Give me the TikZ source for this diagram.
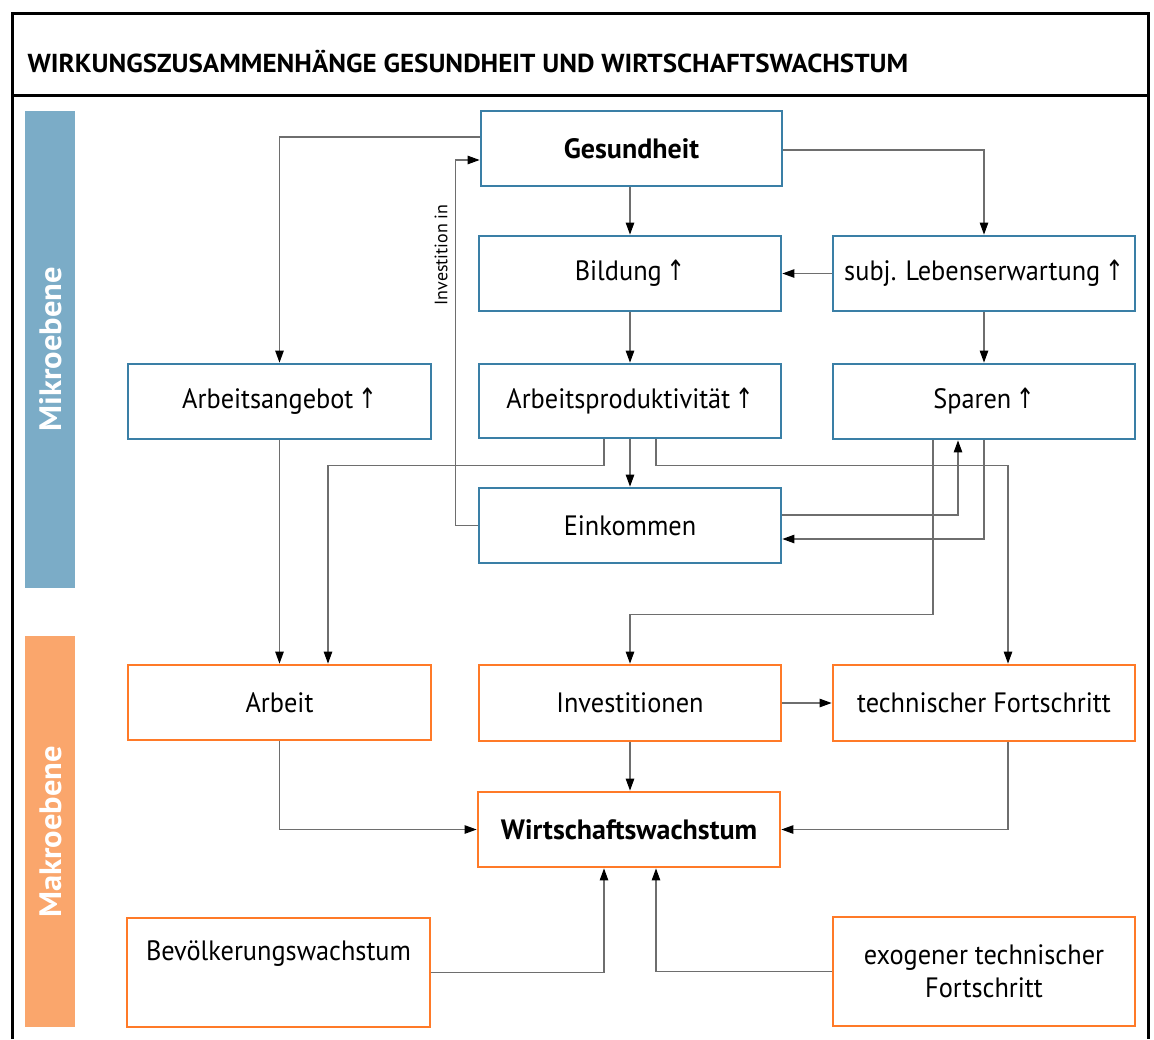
\documentclass[tikz,border=0pt]{standalone}
\usepackage{fontspec}
\setmainfont{PT Sans}[FakeStretch=0.94]
\newfontfamily\boldwide{PT Sans}[FakeStretch=1.0]
\newfontfamily\titlefont{PT Sans}[FakeStretch=1.04]
\newfontfamily\sidefont{PT Sans}[FakeStretch=1.05]
\newfontfamily\smallfont{PT Sans}[FakeStretch=1.0]
\newfontfamily\arrfont{DejaVu Sans}[FakeStretch=0.8]
\usetikzlibrary{arrows.meta}
\definecolor{bbl}{RGB}{58,127,166}
\definecolor{bor}{RGB}{255,122,40}
\definecolor{barblue}{RGB}{123,172,199}
\definecolor{barorange}{RGB}{250,166,108}
\definecolor{conn}{RGB}{110,110,110}
\newcommand{\up}{\,{\arrfont ↑}}
\tikzset{
  bluebox/.style={draw=bbl, line width=2.8pt, inner sep=0pt, align=center, font=\fontsize{28}{33}\selectfont},
  orbox/.style={draw=bor, line width=2.8pt, inner sep=0pt, align=center, font=\fontsize{28}{33}\selectfont},
  boldtext/.style={font=\boldwide\fontsize{28}{33}\selectfont\bfseries},
  conn/.style={draw=conn, line width=1.1pt, -{Triangle[length=12pt,width=8.5pt,color=black]}},
  frameline/.style={line width=3pt, black},
  sidelabel/.style={rotate=90, text=white, font=\sidefont\fontsize{31}{36}\selectfont\bfseries},
}
\begin{document}
\begin{tikzpicture}[x=1pt,y=-1pt]
\useasboundingbox (0,0) rectangle (1154,1039);
% frame
\draw[frameline] (12,1039) -- (12,13) -- (1148,13) -- (1148,1039);
\draw[frameline] (12,95) -- (1148,95);
\node[anchor=west, font=\titlefont\fontsize{26}{30}\selectfont\bfseries] (title) at (24,62) {WIRKUNGSZUSAMMENHÄNGE GESUNDHEIT UND WIRTSCHAFTSWACHSTUM};
% side bars
\fill[barblue] (25,111) rectangle (75,588);
\fill[barorange] (25,636) rectangle (75,1027);
\node[sidelabel] (mikro) at (51,349) {Mikroebene};
\node[sidelabel] (makro) at (51,832) {Makroebene};
% boxes
\node[bluebox, boldtext, minimum width=301pt, minimum height=75pt] (ges) at (631.5,148.5) {Gesundheit};
\node[bluebox, minimum width=302pt, minimum height=75pt] (bil) at (630,273.5) {Bildung\up};
\node[bluebox, minimum width=302pt, minimum height=75pt] (sub) at (984,273.5) {subj. Lebenserwartung\up};
\node[bluebox, minimum width=303pt, minimum height=75pt] (aan) at (279.5,401.5) {Arbeitsangebot\up};
\node[bluebox, minimum width=302pt, minimum height=74pt] (apr) at (630,401) {Arbeitsproduktivität\up};
\node[bluebox, minimum width=302pt, minimum height=75pt] (spa) at (984,401.5) {Sparen\up};
\node[bluebox, minimum width=302pt, minimum height=75pt] (ein) at (630,525.5) {Einkommen};
\node[orbox, minimum width=303pt, minimum height=75pt] (arb) at (279.5,702.5) {Arbeit};
\node[orbox, minimum width=302pt, minimum height=76pt] (inv) at (630,703) {Investitionen};
\node[orbox, minimum width=302pt, minimum height=76pt] (tec) at (984,703) {technischer Fortschritt};
\node[orbox, boldtext, minimum width=302pt, minimum height=75pt] (ww) at (629,829.5) {Wirtschaftswachstum};
\node[orbox, minimum width=303pt, minimum height=109pt] (bev) at (278.5,972.5) {Bevölkerungswachstum\\\strut};
\node[orbox, minimum width=302pt, minimum height=109pt] (exo) at (984,971.5) {exogener technischer\\Fortschritt};
% connectors
\draw[conn] ([yshift=11.5pt]ges.west) -| (aan.north);
\draw[conn] ([yshift=-1.5pt]ges.east) -| (sub.north);
\draw[conn] (bil.north |- ges.south) -- (bil.north);
\draw[conn] (sub.west) -- (bil.east);
\draw[conn] (sub.south) -- (spa.north);
\draw[conn] (bil.south) -- (apr.north);
\draw[conn] (ein.west) -- ++(-22,0) coordinate (invc) |- ([yshift=-11.5pt]ges.west);
\node[rotate=90, font=\smallfont\fontsize{18}{21}\selectfont] (invlab) at (441,255) {Investition in};
\draw[conn] ([xshift=-26pt]apr.south) -- ++(0,26) -| ([xshift=48.5pt]arb.north);
\draw[conn] (apr.south) -- (ein.north);
\draw[conn] ([xshift=26pt]apr.south) -- ++(0,26) -| ([xshift=24pt]tec.north);
\draw[conn] (aan.south) -- (arb.north);
\draw[conn] ([yshift=10.5pt]ein.east) -| ([xshift=-26pt]spa.south);
\draw[conn] (spa.south) |- ([yshift=-13.5pt]ein.east);
\draw[conn] ([xshift=-51pt]spa.south) -- ++(0,174) -| (inv.north);
\draw[conn] (inv.east) -- (tec.west);
\draw[conn] (inv.south) -- (inv.south |- ww.north);
\draw[conn] (arb.south) |- (ww.west);
\draw[conn] ([xshift=24pt]tec.south) |- (ww.east);
\draw[conn] (bev.east) -| ([xshift=-25pt]ww.south);
\draw[conn] (exo.west) -| ([xshift=27pt]ww.south);
\end{tikzpicture}
\end{document}
